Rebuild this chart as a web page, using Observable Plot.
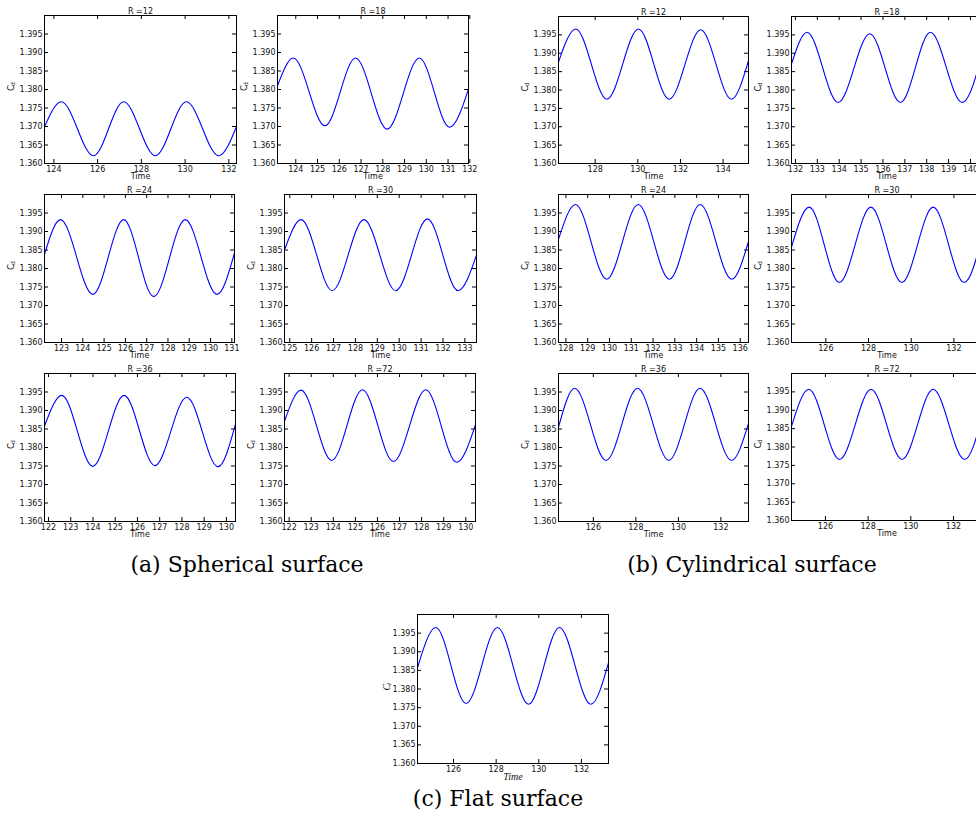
<!DOCTYPE html>
<html><head><meta charset="utf-8">
<script src="https://cdn.jsdelivr.net/npm/d3@7"></script>
<script src="https://cdn.jsdelivr.net/npm/@observablehq/plot@0.6"></script>
<style>
html,body{margin:0;padding:0;background:#fff;}
#page{position:relative;width:976px;height:826px;overflow:hidden;background:#fff;}
.panel{position:absolute;}
.panel svg{max-width:none !important;display:block;}
.cap{position:absolute;font-family:"DejaVu Serif",serif;font-size:22px;color:#000;white-space:nowrap;text-align:center;line-height:1;}
</style></head><body><div id="page"></div>
<script>
// ---------- data ----------
const cdTicks = [1.360, 1.365, 1.370, 1.375, 1.380, 1.385, 1.390, 1.395];

const sph12_t  = [123.57, 124.34, 125.81, 127.19, 128.64, 130.06, 131.54, 132.35];
const sph12_cd = [1.3699, 1.3767, 1.3621, 1.3767, 1.3621, 1.3767, 1.3621, 1.3700];
const sph12_ticks = [124, 126, 128, 130, 132];

const sph18_t  = [123.16, 123.89, 125.34, 126.75, 128.20, 129.68, 131.07, 131.94];
const sph18_cd = [1.3810, 1.3885, 1.3702, 1.3885, 1.3693, 1.3885, 1.3698, 1.3801];
const sph18_ticks = [124, 125, 126, 127, 128, 129, 130, 131, 132];

const sph24_t  = [122.20, 122.95, 124.47, 125.92, 127.33, 128.81, 130.30, 131.125];
const sph24_cd = [1.3838, 1.3932, 1.3730, 1.3932, 1.3724, 1.3932, 1.3730, 1.3842];
const sph24_ticks = [123, 124, 125, 126, 127, 128, 129, 130, 131];

const sph30_t  = [124.76, 125.52, 126.94, 128.39, 129.84, 131.29, 132.69, 133.53];
const sph30_cd = [1.3850, 1.3932, 1.3740, 1.3932, 1.3740, 1.3934, 1.3740, 1.3836];
const sph30_ticks = [125, 126, 127, 128, 129, 130, 131, 132, 133];

const sph36_t  = [121.82, 122.60, 123.99, 125.40, 126.78, 128.22, 129.62, 130.41];
const sph36_cd = [1.3858, 1.3941, 1.3749, 1.3941, 1.3751, 1.3936, 1.3748, 1.3863];
const sph36_ticks = [122, 123, 124, 125, 126, 127, 128, 129, 130];

const sph72_t  = [121.79, 122.54, 123.93, 125.32, 126.72, 128.19, 129.59, 130.44];
const sph72_cd = [1.3871, 1.3955, 1.3765, 1.3956, 1.3762, 1.3956, 1.3760, 1.3862];
const sph72_ticks = [122, 123, 124, 125, 126, 127, 128, 129, 130];

const cyl12_t  = [126.28, 127.09, 128.55, 130.03, 131.47, 132.95, 134.39, 135.19];
const cyl12_cd = [1.3876, 1.3966, 1.3775, 1.3966, 1.3775, 1.3964, 1.3775, 1.3880];
const cyl12_ticks = [128, 130, 132, 134];

const cyl18_t  = [131.82, 132.53, 133.95, 135.40, 136.80, 138.17, 139.62, 140.55];
const cyl18_cd = [1.3871, 1.3957, 1.3766, 1.3953, 1.3766, 1.3957, 1.3766, 1.3900];
const cyl18_ticks = [132, 133, 134, 135, 136, 137, 138, 139, 140];

const cyl24_t  = [127.66, 128.44, 129.87, 131.32, 132.75, 134.16, 135.61, 136.38];
const cyl24_cd = [1.3879, 1.3973, 1.3771, 1.3973, 1.3771, 1.3973, 1.3771, 1.3873];
const cyl24_ticks = [128, 129, 130, 131, 132, 133, 134, 135, 136];

const cyl30_t  = [124.39, 125.22, 126.63, 128.11, 129.56, 131.03, 132.48, 133.34];
const cyl30_cd = [1.3858, 1.3966, 1.3762, 1.3966, 1.3762, 1.3966, 1.3762, 1.3890];
const cyl30_ticks = [126, 128, 130, 132];

const cyl36_t  = [124.36, 125.12, 126.60, 128.08, 129.55, 131.02, 132.50, 133.30];
const cyl36_cd = [1.3855, 1.3960, 1.3765, 1.3960, 1.3765, 1.3960, 1.3765, 1.3865];
const cyl36_ticks = [126, 128, 130, 132];

const cyl72_t  = [124.41, 125.22, 126.66, 128.14, 129.59, 131.05, 132.52, 133.36];
const cyl72_cd = [1.3856, 1.3957, 1.3766, 1.3957, 1.3766, 1.3957, 1.3766, 1.3885];
const cyl72_ticks = [126, 128, 130, 132];

const flat_t  = [124.31, 125.17, 126.59, 128.06, 129.52, 130.97, 132.44, 133.27];
const flat_cl = [1.3857, 1.3965, 1.3761, 1.3965, 1.3759, 1.3965, 1.3759, 1.3870];
const flat_ticks = [126, 128, 130, 132];

const captions = ["(a) Spherical surface", "(b) Cylindrical surface", "(c) Flat surface"];

// ---------- layout ----------
const panels = [
  {t: sph12_t, v: sph12_cd, ticks: sph12_ticks, title: "R =12", left: 44,  top: 15,  w: 192, h: 148},
  {t: sph18_t, v: sph18_cd, ticks: sph18_ticks, title: "R =18", left: 277, top: 15,  w: 191, h: 148},
  {t: sph24_t, v: sph24_cd, ticks: sph24_ticks, title: "R =24", left: 44,  top: 194, w: 190, h: 148},
  {t: sph30_t, v: sph30_cd, ticks: sph30_ticks, title: "R =30", left: 284, top: 194, w: 192, h: 148},
  {t: sph36_t, v: sph36_cd, ticks: sph36_ticks, title: "R =36", left: 44,  top: 373, w: 191, h: 148},
  {t: sph72_t, v: sph72_cd, ticks: sph72_ticks, title: "R =72", left: 284, top: 373, w: 191, h: 148},
  {t: cyl12_t, v: cyl12_cd, ticks: cyl12_ticks, title: "R =12", left: 558, top: 16,  w: 190, h: 147},
  {t: cyl18_t, v: cyl18_cd, ticks: cyl18_ticks, title: "R =18", left: 791, top: 16,  w: 191, h: 147},
  {t: cyl24_t, v: cyl24_cd, ticks: cyl24_ticks, title: "R =24", left: 558, top: 194, w: 190, h: 148},
  {t: cyl30_t, v: cyl30_cd, ticks: cyl30_ticks, title: "R =30", left: 791, top: 194, w: 191, h: 148},
  {t: cyl36_t, v: cyl36_cd, ticks: cyl36_ticks, title: "R =36", left: 558, top: 373, w: 190, h: 148},
  {t: cyl72_t, v: cyl72_cd, ticks: cyl72_ticks, title: "R =72", left: 791, top: 373, w: 191, h: 147},
  {t: flat_t,  v: flat_cl,  ticks: flat_ticks,  title: null,    left: 417, top: 614, w: 191, h: 149, flat: true}
];

const ML = 50, MR = 12, MT = 20, MB = 26;
const page = document.getElementById("page");

function makePanel(p) {
  const data = p.t.map((t, i) => ({t, v: p.v[i]}));
  const w = p.w, h = p.h;
  const marks = [
    Plot.ruleX(p.ticks, {insetTop: h - 4, stroke: "#000"}),
    Plot.ruleX(p.ticks, {insetBottom: h - 4, stroke: "#000"}),
    Plot.ruleY(cdTicks, {insetRight: w - 4, stroke: "#000"}),
    Plot.ruleY(cdTicks, {insetLeft: w - 4, stroke: "#000"}),
    Plot.line(data, {x: "t", y: "v", stroke: "#0000ff", strokeWidth: 1.1, curve: "monotone-x"}),
    Plot.frame({stroke: "#000"}),
    Plot.axisX(p.ticks, {tickSize: 0, tickPadding: 3, fontSize: 8, label: null, tickFormat: d => String(d)}),
    Plot.axisY(cdTicks, {tickSize: 0, tickPadding: 2, fontSize: 8, label: null, tickFormat: d3.format(".3f")})
  ];
  if (p.flat) {
    marks.push(
      Plot.text(["Time"], {text: d => d, frameAnchor: "bottom", lineAnchor: "top", dy: 9, fontSize: 10, fontFamily: "Liberation Serif", fontStyle: "italic"}),
      Plot.text(["C"], {text: d => d, frameAnchor: "left", dx: -31, dy: 1.5, rotate: -90, fontSize: 10, fontFamily: "Liberation Serif", fontStyle: "italic"}),
      Plot.text(["l"], {text: d => d, frameAnchor: "left", dx: -28.5, dy: -4, rotate: -90, fontSize: 7, fontFamily: "Liberation Serif", fontStyle: "italic"})
    );
  } else {
    marks.push(
      Plot.text([p.title], {text: d => d, frameAnchor: "top", lineAnchor: "bottom", dy: -2, fontSize: 8}),
      Plot.text(["Time"], {text: d => d, frameAnchor: "bottom", lineAnchor: "top", dy: 9.5, fontSize: 8}),
      Plot.text(["C"], {text: d => d, frameAnchor: "left", dx: -33, dy: 1.5, rotate: -90, fontSize: 8.5}),
      Plot.text(["d"], {text: d => d, frameAnchor: "left", dx: -31, dy: -3.5, rotate: -90, fontSize: 6})
    );
  }
  const chart = Plot.plot({
    width: w + ML + MR, height: h + MT + MB,
    marginLeft: ML, marginRight: MR, marginTop: MT, marginBottom: MB,
    style: {background: "transparent", overflow: "visible", fontFamily: "DejaVu Sans", fontSize: "8px", color: "#111"},
    x: {domain: d3.extent(p.t), label: null},
    y: {domain: [1.36, 1.4], label: null},
    marks
  });
  const div = document.createElement("div");
  div.className = "panel";
  div.style.left = (p.left - ML) + "px";
  div.style.top = (p.top - MT) + "px";
  div.style.width = (w + ML + MR) + "px";
  div.appendChild(chart);
  page.appendChild(div);
}
panels.forEach(makePanel);

const capPos = [[247, 554], [752, 554], [498, 788]];
captions.forEach((c, i) => {
  const d = document.createElement("div");
  d.className = "cap";
  d.textContent = c;
  d.style.left = (capPos[i][0] - 200) + "px";
  d.style.width = "400px";
  d.style.top = capPos[i][1] + "px";
  page.appendChild(d);
});
</script></body></html>
